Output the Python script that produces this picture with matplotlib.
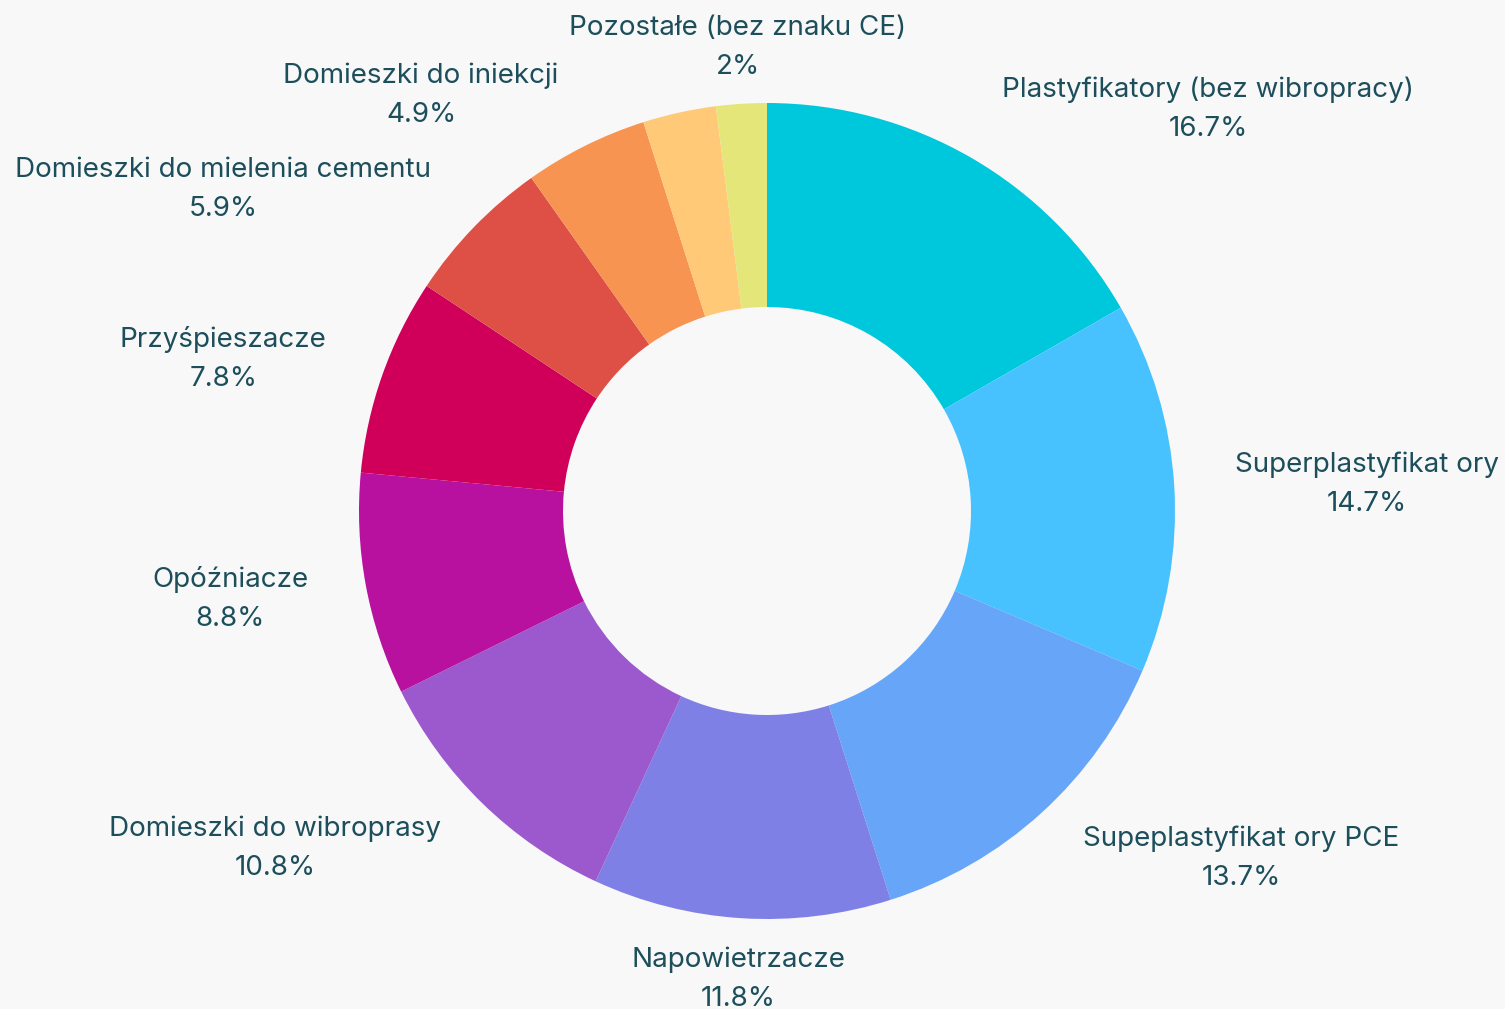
import matplotlib
matplotlib.use("Agg")
import matplotlib.pyplot as plt

# share of admixture types (%), clockwise from 12 o'clock
CATEGORIES = [
    "Plastyfikatory (bez wibropracy)",
    "Superplastyfikat ory",
    "Supeplastyfikat ory PCE",
    "Napowietrzacze",
    "Domieszki do wibroprasy",
    "Opóźniacze",
    "Przyśpieszacze",
    "Domieszki do mielenia cementu",
    "Domieszki do iniekcji",
    "",  # label hidden in the original (overlap)
    "Pozostałe (bez znaku CE)",
]
VALUES = [16.7, 14.7, 13.7, 11.8, 10.8, 8.8, 7.8, 5.9, 4.9, 2.9, 2.0]
PCT_TEXT = ["16.7%", "14.7%", "13.7%", "11.8%", "10.8%", "8.8%", "7.8%",
            "5.9%", "4.9%", "", "2%"]

COLORS = ["#00C8DC", "#48C2FF", "#66A5F8", "#7F80E6", "#9B59CD", "#B811A0",
          "#D0005A", "#DE5046", "#F79451", "#FFC977", "#E5E67A"]

# label block centres, in units of pie radius (hand-laid like the original)
LABEL_XY = [(1.081, 0.993), (1.471, 0.074), (1.162, -0.843), (-0.071, -1.140),
            (-1.206, -0.819), (-1.316, -0.208), (-1.333, 0.380), (-1.333, 0.797),
            (-0.848, 1.027), None, (-0.071, 1.145)]

BG = "#F8F8F8"
TXT = "#1D4E5B"
plt.rcParams["font.family"] = ["Inter", "DejaVu Sans"]

W, H = 1505, 1009
CX, CY, R = 767, 511, 408  # pixel centre / radius of the donut

fig = plt.figure(figsize=(W / 100, H / 100), dpi=100, facecolor=BG)
ax = fig.add_axes([0, 0, 1, 1])
ax.set_facecolor(BG)
ax.pie(VALUES, colors=COLORS, startangle=90, counterclock=False, radius=1.0,
       wedgeprops=dict(width=0.5, edgecolor="none", linewidth=0))
ax.set_xlim(-CX / R, (W - CX) / R)
ax.set_ylim(-(H - CY) / R, CY / R)
ax.set_aspect("auto")
ax.axis("off")

for name, pct, xy in zip(CATEGORIES, PCT_TEXT, LABEL_XY):
    if xy is None:
        continue
    ax.text(xy[0], xy[1] - 0.008, f"{name}\n{pct}", ha="center", va="center",
            fontsize=20, color=TXT, linespacing=1.65, clip_on=False)

fig.savefig("out.png", dpi=100, facecolor=BG)
